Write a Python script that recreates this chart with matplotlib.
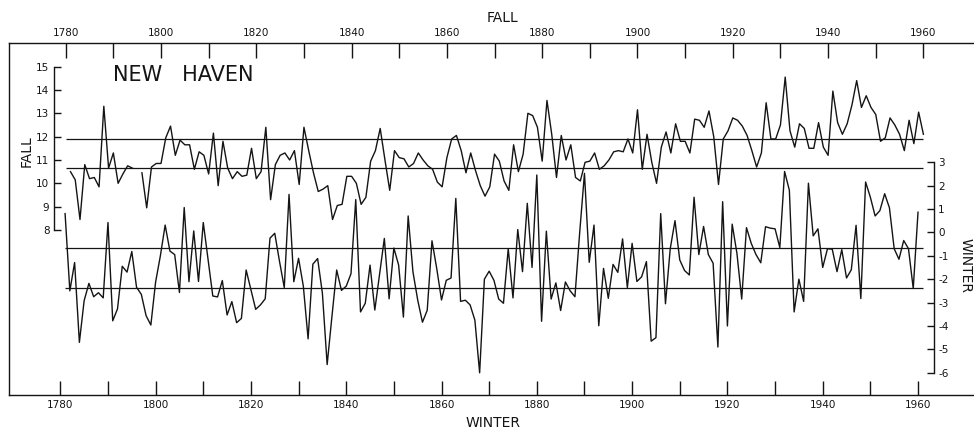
import numpy as np
import matplotlib
matplotlib.use("Agg")
import matplotlib.pyplot as plt

# New Haven mean temperatures, fall (top/left scale) and winter (bottom/right scale)
fall_years = np.arange(1781, 1961)
fall_temps = [
    10.5, 10.15, 8.45, 10.8, 10.2, 10.25, 9.85, 13.3, 10.65, 11.3,
    10.0, 10.4, 10.75, 10.65, np.nan, 10.45, 8.95, 10.7, 10.85, 10.85,
    11.95, 12.45, 11.2, 11.85, 11.65, 11.65, 10.6, 11.35, 11.2, 10.4,
    12.15, 9.9, 11.8, 10.65, 10.2, 10.5, 10.3, 10.35, 11.5, 10.2,
    10.5, 12.4, 9.3, 10.8, 11.2, 11.3, 11.0, 11.4, 9.95, 12.4,
    11.4, 10.45, 9.65, 9.75, 9.9, 8.45, 9.05, 9.1, 10.3, 10.3,
    10.0, 9.1, 9.4, 10.95, 11.4, 12.35, 11.0, 9.7, 11.4, 11.1,
    11.05, 10.7, 10.85, 11.3, 11.0, 10.75, 10.6, 10.05, 9.85, 11.1,
    11.9, 12.05, 11.4, 10.45, 11.3, 10.55, 9.9, 9.45, 9.85, 11.25,
    10.95, 10.1, 9.7, 11.65, 10.5, 11.25, 13.0, 12.9, 12.4, 10.95,
    13.55, 12.1, 10.25, 12.05, 11.0, 11.65, 10.25, 10.1, 10.9, 10.95,
    11.3, 10.6, 10.75, 11.0, 11.35, 11.4, 11.35, 11.9, 11.3, 13.15,
    10.6, 12.1, 10.9, 10.0, 11.55, 12.2, 11.3, 12.55, 11.8, 11.8,
    11.3, 12.75, 12.7, 12.4, 13.1, 12.0, 9.95, 11.9, 12.25, 12.8,
    12.7, 12.45, 12.05, 11.4, 10.7, 11.3, 13.45, 11.9, 11.9, 12.5,
    14.55, 12.25, 11.55, 12.55, 12.35, 11.5, 11.5, 12.6, 11.55, 11.2,
    13.95, 12.6, 12.1, 12.55, 13.35, 14.4, 13.25, 13.75, 13.25, 12.95,
    11.8, 11.95, 12.8, 12.5, 12.1, 11.4, 12.7, 11.7, 13.05, 12.1,
]

winter_years = np.arange(1781, 1961)
winter_temps = [
    0.8, -2.5, -1.29, -4.7, -2.92, -2.18, -2.75, -2.58, -2.8, 0.42,
    -3.78, -3.27, -1.45, -1.7, -0.82, -2.35, -2.65, -3.56, -3.96, -2.12,
    -1.0, 0.31, -0.8, -0.95, -2.57, 1.06, -2.11, 0.06, -2.1, 0.42,
    -1.15, -2.72, -2.76, -2.06, -3.53, -2.96, -3.86, -3.68, -1.61, -2.46,
    -3.29, -3.1, -2.84, -0.25, -0.04, -1.24, -2.36, 1.62, -2.11, -1.11,
    -2.3, -4.55, -1.36, -1.12, -2.6, -5.65, -3.6, -1.61, -2.48, -2.3,
    -1.77, 1.4, -3.4, -3.03, -1.4, -3.32, -1.78, -0.26, -2.84, -0.67,
    -1.4, -3.62, 0.7, -1.68, -2.89, -3.84, -3.33, -0.36, -1.55, -2.89,
    -2.05, -1.95, 1.45, -2.95, -2.9, -3.1, -3.75, -6.0, -2.0, -1.66,
    -2.05, -2.85, -3.03, -0.7, -2.8, 0.12, -1.68, 1.24, -1.5, 2.45,
    -3.8, 0.05, -2.85, -2.16, -3.34, -2.12, -2.5, -2.75, 0.0, 2.52,
    -1.28, 0.31, -3.99, -1.54, -2.82, -1.37, -1.71, -0.28, -2.36, -0.47,
    -2.1, -1.9, -1.25, -4.65, -4.5, 0.8, -3.05, -0.7, 0.5, -1.18,
    -1.63, -1.82, 1.5, -0.95, 0.25, -0.95, -1.32, -4.9, 1.31, -4.0,
    0.35, -0.9, -2.85, 0.2, -0.47, -0.95, -1.3, 0.24, 0.18, 0.15,
    -0.65, 2.6, 1.8, -3.4, -2.0, -2.95, 2.1, -0.15, 0.15, -1.5,
    -0.7, -0.72, -1.68, -0.74, -1.95, -1.6, 0.3, -2.83, 2.15, 1.5,
    0.7, 0.93, 1.65, 1.05, -0.7, -1.15, -0.35, -0.7, -2.4, 0.86,
]

fall_levels = [11.88, 10.67]
winter_levels = [-0.68, -2.39]

decade_ticks = list(range(1780, 1961, 10))
decade_labels = [str(y) if y % 20 == 0 else "" for y in decade_ticks]
fall_yticks = list(range(8, 16))
winter_yticks = list(range(-6, 4))

plt.rcParams["font.family"] = "DejaVu Sans"
plt.rcParams["axes.unicode_minus"] = False

INK = "#141414"

fig = plt.figure(figsize=(9.74, 4.32), dpi=100)
rect = [9 / 974, 37 / 432, 965 / 974, 352 / 432]

# fall: top year axis + inner left scale
ax_fall = fig.add_axes(rect, label="fall")
ax_fall.set_xlim(1768.1, 1970.62)
ax_fall.set_ylim(0.934, 16.01)
ax_fall.plot(fall_years, fall_temps, color=INK, linewidth=1.0)
ax_fall.hlines(fall_levels, 1780, 1960, color=INK, linewidth=0.9)

ax_fall.spines["bottom"].set_visible(False)
ax_fall.spines["right"].set_visible(False)
ax_fall.spines["left"].set_position(("data", 1777.6))
ax_fall.spines["left"].set_bounds(8, 15)
for sp in ax_fall.spines.values():
    sp.set_color(INK)
    sp.set_linewidth(1.0)

ax_fall.xaxis.set_ticks_position("top")
ax_fall.set_xticks(decade_ticks)
ax_fall.set_xticklabels(decade_labels)
ax_fall.tick_params(axis="x", direction="in", length=11, width=1.0,
                    labelsize=7.5, pad=3.5, colors=INK)
ax_fall.set_yticks(fall_yticks)
ax_fall.tick_params(axis="y", direction="in", length=5, width=1.0,
                    labelsize=7.5, pad=3.5, colors=INK)

# winter: bottom year axis + right scale
ax_win = fig.add_axes(rect, label="winter", facecolor="none")
ax_win.set_xlim(1769.23, 1971.75)
ax_win.set_ylim(-6.95, 8.09)
ax_win.plot(winter_years, winter_temps, color=INK, linewidth=1.0)
ax_win.hlines(winter_levels, 1781, 1961, color=INK, linewidth=0.9)

ax_win.spines["top"].set_visible(False)
ax_win.spines["right"].set_position(("data", 1963.35))
ax_win.spines["right"].set_bounds(-6, 3)
for sp in ax_win.spines.values():
    sp.set_color(INK)
    sp.set_linewidth(1.0)

ax_win.set_xticks(decade_ticks)
ax_win.set_xticklabels(decade_labels)
ax_win.tick_params(axis="x", direction="in", length=10, width=1.0,
                   labelsize=7.5, pad=3.5, colors=INK)
ax_win.yaxis.set_ticks_position("right")
ax_win.set_yticks(winter_yticks)
ax_win.tick_params(axis="y", direction="in", length=5, width=1.0,
                   labelsize=7.5, pad=3, colors=INK)

# titles / labels
fig.text(503 / 974, 1 - 18 / 432, "FALL", ha="center", va="center",
         fontsize=10, color=INK)
fig.text(493 / 974, 1 - 423 / 432, "WINTER", ha="center", va="center",
         fontsize=10, color=INK)
fig.text(27 / 974, 1 - 151 / 432, "FALL", ha="center", va="center",
         rotation=90, fontsize=10, color=INK)
fig.text(966 / 974, 1 - 265 / 432, "WINTER", ha="center", va="center",
         rotation=270, fontsize=10, color=INK)
fig.text(113 / 974, 1 - 75 / 432, "NEW   HAVEN", ha="left", va="center",
         fontsize=15, color=INK)

fig.savefig("out.png", dpi=100)
